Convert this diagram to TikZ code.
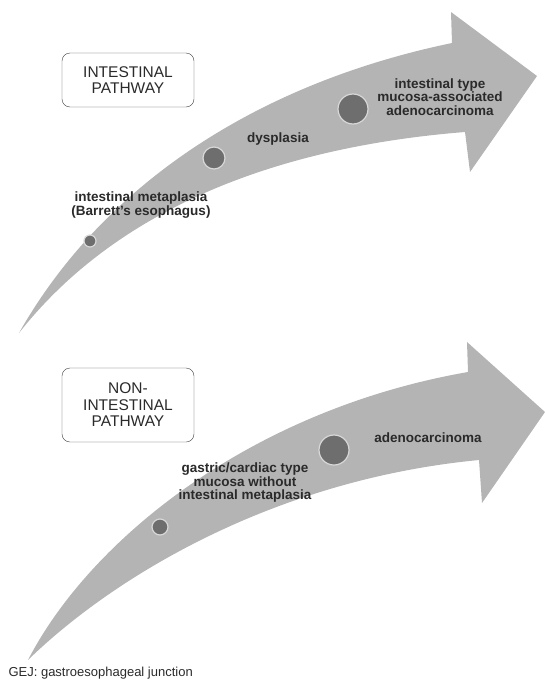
\documentclass[tikz,border=0pt]{standalone}
\usepackage{fontspec}
\setmainfont{Liberation Sans}
\usepackage{tikz}
\usetikzlibrary{positioning}
\definecolor{arrowgray}{HTML}{B4B4B4}
\definecolor{dotgray}{HTML}{6E6E6E}
\definecolor{ringgray}{HTML}{D8D8D8}
\definecolor{textgray}{HTML}{2A2A2A}
\definecolor{boxline}{HTML}{404040}

\begin{document}
\begin{tikzpicture}[x=1pt, y=-1pt,
    pathbox/.style={rectangle, rounded corners=8pt, draw=boxline, fill=white, minimum width=132pt, align=center, inner sep=4pt, font=\fontsize{15.5}{16.5}\selectfont, text=textgray},
    stage/.style={circle, fill=dotgray, draw=ringgray, line width=1.2pt, inner sep=0pt},
    stagelabel/.style={align=center, font=\bfseries\fontsize{13.5}{13.5}\selectfont, text=textgray}]
    \useasboundingbox (0,0) rectangle (545,683);

    \fill[arrowgray] (19,333) .. controls (100,190) and (250,85) .. (452,43) -- (451,12) -- (537,76) -- (470,172) -- (465,132) .. controls (240,150) and (100,230) .. (19,333) -- cycle;
    \fill[arrowgray] (28,660) .. controls (90,540) and (250,410) .. (468,372) -- (467,342) -- (545,412) -- (482,503) -- (479,460) .. controls (270,480) and (110,580) .. (28,660) -- cycle;

    \node (intbox) [pathbox, minimum height=54pt] at (128,80) {INTESTINAL\\PATHWAY};
    \node (metaplasia) [stage, minimum size=12pt] at (90,241) {};
    \node (dysplasia) [stage, minimum size=22pt] at (214,158) {};
    \node (intcarc) [stage, minimum size=30pt] at (353,109) {};
    \node (metaplasialab) [stagelabel] at (141,205) {intestinal metaplasia\\(Barrett's esophagus)};
    \node (dysplasialab) [stagelabel] at (278,139) {dysplasia};
    \node (intcarclab) [stagelabel] at (440,97) {intestinal type\\mucosa-associated\\adenocarcinoma};

    \node (nonbox) [pathbox, minimum height=74pt] at (128,405) {NON-\\INTESTINAL\\PATHWAY};
    \node (cardiac) [stage, minimum size=16pt] at (160,527) {};
    \node (noncarc) [stage, minimum size=30pt] at (334,450) {};
    \node (cardiaclab) [stagelabel] at (245,483) {gastric/cardiac type\\mucosa without\\intestinal metaplasia};
    \node (noncarclab) [stagelabel] at (428,438) {adenocarcinoma};

    \node (gej) [anchor=west, font=\fontsize{13}{14}\selectfont, text=textgray] at (5,673) {GEJ: gastroesophageal junction};
\end{tikzpicture}
\end{document}
